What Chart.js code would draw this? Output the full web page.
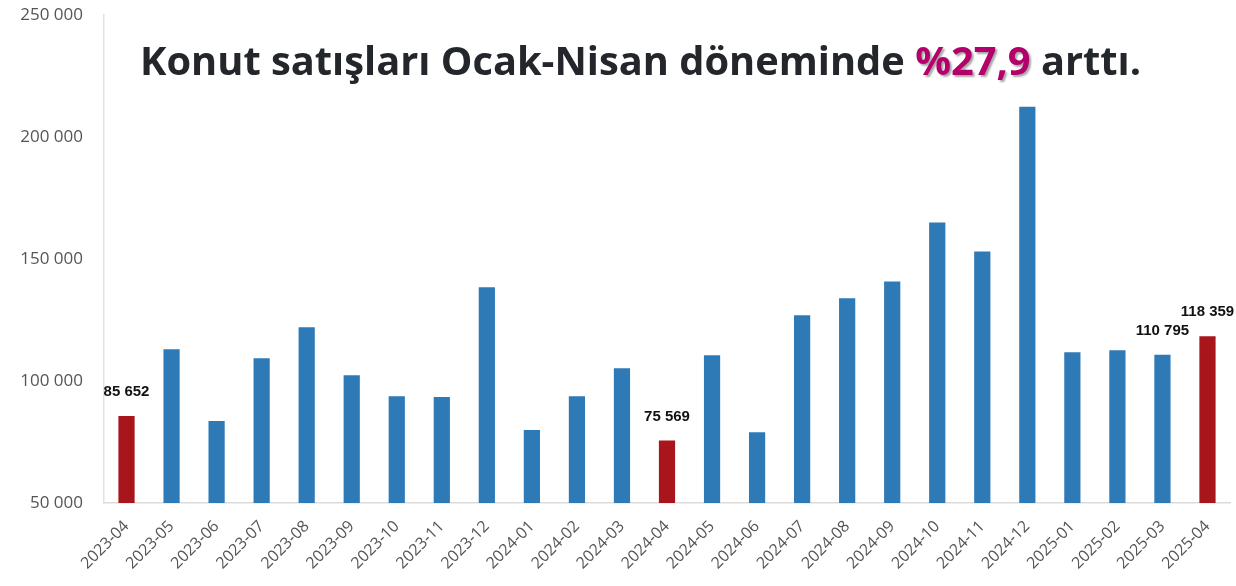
<!DOCTYPE html>
<html>
<head>
<meta charset="utf-8">
<script src="https://cdn.jsdelivr.net/npm/chart.js@4.4.1/dist/chart.umd.min.js"></script>
<style>
  html, body { margin: 0; padding: 0; background: #fff; }
  #wrap { width: 1236px; height: 586px; position: relative; }
</style>
</head>
<body>
<div id="wrap"><canvas id="salesChart"></canvas></div>
<script>
const months = ["2023-04", "2023-05", "2023-06", "2023-07", "2023-08", "2023-09", "2023-10", "2023-11", "2023-12",
    "2024-01", "2024-02", "2024-03", "2024-04", "2024-05", "2024-06", "2024-07", "2024-08", "2024-09", "2024-10",
    "2024-11", "2024-12", "2025-01", "2025-02", "2025-03", "2025-04"];
const sales = [85652, 113000, 83600, 109300, 122000, 102400, 93800, 93400, 138400,
    79900, 93800, 105200, 75569, 110600, 79000, 126900, 133900, 140800, 165000,
    153100, 212400, 111800, 112600, 110795, 118359];
const highlighted = ["2023-04", "2024-04", "2025-04"];
const labelled = ["2023-04", "2024-04", "2025-03", "2025-04"];
const yTicks = [50000, 100000, 150000, 200000, 250000];

const fmt = v => String(v).replace(/\B(?=(\d{3})+(?!\d))/g, ' ');

const barColors = months.map(m => highlighted.includes(m) ? '#a8151b' : '#2e7ab7');

// value labels above selected bars
const valueLabels = {
    id: 'valueLabels',
    afterDatasetsDraw(chart) {
        const ctx = chart.ctx;
        const meta = chart.getDatasetMeta(0);
        ctx.save();
        ctx.font = 'bold 15px "Liberation Sans", Arial, sans-serif';
        ctx.fillStyle = '#111';
        ctx.textAlign = 'center';
        ctx.textBaseline = 'middle';
        meta.data.forEach((bar, i) => {
            if (!labelled.includes(months[i])) return;
            ctx.fillText(fmt(sales[i]), bar.x, bar.y - 24);
        });
        ctx.restore();
    }
};

// headline inside the plot
const headline = {
    id: 'headline',
    afterDraw(chart) {
        const ctx = chart.ctx;
        const parts = [
            { t: 'Konut satışları Ocak-Nisan döneminde ', c: '#23262b' },
            { t: '%27,9', c: '#b3006a', shadow: true },
            { t: ' arttı.', c: '#23262b' }
        ];
        ctx.save();
        ctx.font = 'bold 38px "Open Sans", sans-serif';
        const total = parts.reduce((s, p) => s + ctx.measureText(p.t).width, 0);
        const scale = 1000 / total;
        ctx.font = 'bold ' + (38 * scale).toFixed(1) + 'px "Open Sans", sans-serif';
        ctx.textBaseline = 'middle';
        let x = 640 - 500;
        const y = 64;
        parts.forEach(p => {
            if (p.shadow) {
                ctx.shadowColor = 'rgba(0,0,0,0.35)';
                ctx.shadowOffsetX = 2;
                ctx.shadowOffsetY = 2;
                ctx.shadowBlur = 2;
            } else {
                ctx.shadowColor = 'transparent';
            }
            ctx.fillStyle = p.c;
            ctx.fillText(p.t, x, y);
            x += ctx.measureText(p.t).width;
        });
        ctx.restore();
    }
};

new Chart(document.getElementById('salesChart'), {
    type: 'bar',
    data: {
        labels: months,
        datasets: [{
            data: sales,
            backgroundColor: barColors,
            borderWidth: 0,
            barPercentage: 0.36,
            categoryPercentage: 1
        }]
    },
    options: {
        responsive: true,
        maintainAspectRatio: false,
        animation: false,
        layout: { padding: { top: 15, right: 6, bottom: 0, left: 0 } },
        plugins: {
            legend: { display: false },
            tooltip: { enabled: false }
        },
        scales: {
            x: {
                afterFit: axis => { axis.height = 83; },
                grid: { display: false, drawTicks: false },
                border: { color: '#dcdcdc', width: 1.5 },
                ticks: {
                    minRotation: 45,
                    maxRotation: 45,
                    autoSkip: false,
                    padding: 14,
                    color: '#555',
                    font: { family: '"Open Sans", sans-serif', size: 16 }
                }
            },
            y: {
                min: 50000,
                max: 250000,
                afterBuildTicks: axis => { axis.ticks = yTicks.map(v => ({ value: v })); },
                afterFit: axis => {
                    axis.width = 104;
                    axis.paddingTop = 0;
                    axis.paddingBottom = 0;
                },
                grid: { display: false, drawTicks: false },
                border: { color: '#e2e2e2', width: 1.5 },
                ticks: {
                    padding: 21,
                    color: '#555',
                    font: { family: '"Open Sans", sans-serif', size: 17 },
                    callback: v => fmt(v)
                }
            }
        }
    },
    plugins: [valueLabels, headline]
});
</script>
</body>
</html>
